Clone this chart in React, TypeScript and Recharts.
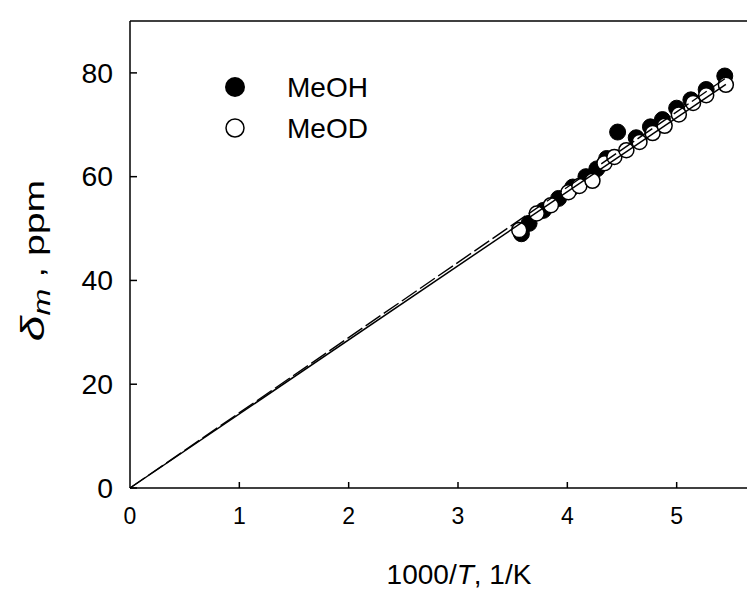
import React from 'react';
import { ScatterChart, Scatter, XAxis, YAxis, ReferenceLine } from 'recharts';

// ---- data ----
const xTicks = [0, 1, 2, 3, 4, 5];
const yTicks = [0, 20, 40, 60, 80];

const meohX = [3.58, 3.65, 3.78, 3.92, 4.05, 4.17, 4.27, 4.36, 4.46, 4.63, 4.76, 4.87, 5.0, 5.13, 5.27, 5.44];
const meohY = [49.0, 51.0, 53.5, 55.8, 58.0, 60.0, 61.5, 63.5, 68.6, 67.5, 69.6, 71.0, 73.2, 74.8, 76.8, 79.4];
const meodX = [3.56, 3.72, 3.85, 4.01, 4.11, 4.23, 4.34, 4.43, 4.54, 4.66, 4.78, 4.89, 5.02, 5.15, 5.27, 5.45];
const meodY = [49.7, 52.9, 54.5, 57.0, 58.2, 59.2, 62.6, 63.8, 65.1, 66.7, 68.4, 69.8, 72.0, 74.2, 75.7, 77.7];
const fitX = [0, 5.45];
const solidFitY = [0, 77.8];
const dashedFitY = [0, 79.0];

const zip = (xs: number[], ys: number[]) => xs.map((x, i) => ({ x, y: ys[i] }));
const meohData = zip(meohX, meohY);
const meodData = zip(meodX, meodY);
const solidData = zip(fitX, solidFitY);
const dashedData = zip(fitX, dashedFitY);

const FONT = '"Liberation Sans", Arial, Helvetica, sans-serif';
const Y_GAP = 17;

const YTick = (props: any) => {
  const { x, y, payload } = props;
  const ax = x + Y_GAP;
  return (
    <g>
      <line x1={ax} x2={ax + 7} y1={y} y2={y} stroke="#000" strokeWidth={1.5} />
      <text
        transform={`translate(${x},${y}) scale(1.05,1)`}
        textAnchor="end"
        dy="0.36em"
        fontSize={27}
        fontFamily={FONT}
        fill="#000"
      >
        {payload.value}
      </text>
    </g>
  );
};

const XTick = (props: any) => {
  const { x, y, payload } = props;
  return (
    <g>
      {payload.value !== 0 && <line x1={x} x2={x} y1={y} y2={y - 6} stroke="#000" strokeWidth={1.5} />}
      <text x={x} y={y + 36} textAnchor="middle" fontSize={23} fontFamily={FONT} fill="#000">
        {payload.value}
      </text>
    </g>
  );
};

const XTitle = (props: any) => {
  const vb = props.viewBox;
  const cx = vb.x + vb.width / 2 + 1;
  const by = vb.y + 96;
  return (
    <text x={cx} y={by} textAnchor="middle" fontSize={28} fontFamily={FONT} fill="#000">
      1000/<tspan fontStyle="italic">T</tspan>, 1/K
    </text>
  );
};

const YTitle = (props: any) => {
  const vb = props.viewBox;
  const bx = vb.x + 36;
  const cy = vb.y + vb.height / 2 + 6;
  return (
    <text transform={`translate(${bx},${cy}) rotate(-90) scale(1.4,1)`} textAnchor="middle" fontSize={28} fontFamily={FONT} fill="#000">
      <tspan fontStyle="italic" fontSize={33}>δ</tspan>
      <tspan fontStyle="italic" fontSize={23} dy={6}>m</tspan>
      <tspan dy={-6}> , ppm</tspan>
    </text>
  );
};

const FilledDot = (props: any) => <circle cx={props.cx} cy={props.cy} r={8} fill="#000" stroke="#000" strokeWidth={1} />;
const OpenDot = (props: any) => <circle cx={props.cx} cy={props.cy} r={7.5} fill="#fff" stroke="#000" strokeWidth={1.5} />;
const NoDot = () => <g />;

export default function App() {
  return (
    <div style={{ position: 'relative', width: 747, height: 584, overflow: 'hidden', background: '#fff' }}>
      <ScatterChart width={790} height={584} margin={{ top: 13, right: 12, bottom: 44, left: 0 }}>
        <XAxis
          type="number"
          dataKey="x"
          domain={[0, 6]}
          ticks={xTicks}
          height={60}
          tickSize={0}
          tickMargin={0}
          tickLine={false}
          tick={<XTick />}
          axisLine={{ stroke: '#000', strokeWidth: 1.5 }}
          label={XTitle}
        />
        <YAxis
          type="number"
          dataKey="y"
          domain={[0, 90]}
          ticks={yTicks}
          width={122}
          tickSize={0}
          tickMargin={Y_GAP}
          tickLine={false}
          tick={<YTick />}
          axisLine={{ stroke: '#000', strokeWidth: 1.5 }}
          label={YTitle}
        />
        <ReferenceLine y={90} stroke="#000" strokeWidth={1.5} />
        <Scatter data={meohData} shape={<FilledDot />} isAnimationActive={false} />
        <Scatter data={meodData} shape={<OpenDot />} isAnimationActive={false} />
        <Scatter
          data={solidData}
          shape={<NoDot />}
          line={{ stroke: '#000', strokeWidth: 1.5 }}
          fill="#000"
          isAnimationActive={false}
        />
        <Scatter
          data={dashedData}
          shape={<NoDot />}
          line={{ stroke: '#000', strokeWidth: 1.4, strokeDasharray: '18 4' }}
          fill="#000"
          isAnimationActive={false}
        />
      </ScatterChart>
      <svg width={300} height={120} style={{ position: 'absolute', left: 200, top: 50 }}>
        <circle cx={27} cy={29} r={10} fill="#000" />
        <circle cx={27} cy={70} r={9} fill="#fff" stroke="#000" strokeWidth={1.5} />
        <text x={79} y={39} fontSize={28} fontFamily={FONT} fill="#000">MeOH</text>
        <text x={79} y={80} fontSize={28} fontFamily={FONT} fill="#000">MeOD</text>
      </svg>
    </div>
  );
}
